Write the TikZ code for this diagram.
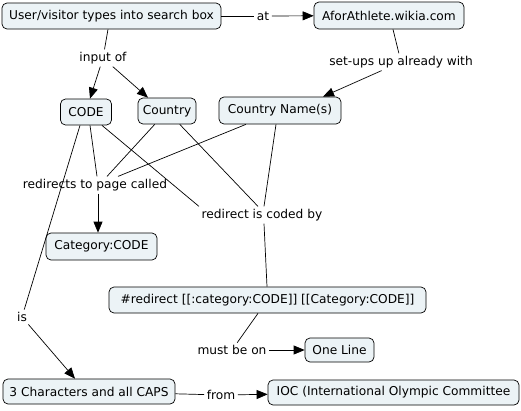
\documentclass[tikz,border=0pt]{standalone}
\usepackage{fontspec}
\setmainfont{DejaVu Sans}
\usetikzlibrary{arrows.meta}
\definecolor{boxfill}{RGB}{236,243,246}
\begin{document}
\begin{tikzpicture}[x=1pt,y=-1pt,
  concept/.style={draw=black, fill=boxfill, rounded corners=5pt, inner sep=0pt, font=\fontsize{12.2}{14}\selectfont, line width=0.7pt},
  lbl/.style={inner sep=2.5pt, font=\fontsize{12.2}{14}\selectfont},
  con/.style={draw=black, line width=0.7pt},
  arr/.style={con, -{Triangle[length=11pt,width=9pt]}}]
\useasboundingbox (0,0) rectangle (521,410);
% concepts
\node[concept, minimum width=219pt, minimum height=26pt] (user) at (111.5,16) {User/visitor types into search box};
\node[concept, minimum width=150pt, minimum height=27pt] (afor) at (389,15.5) {AforAthlete.wikia.com};
\node[concept, minimum width=51pt, minimum height=26pt] (code) at (86,112) {CODE};
\node[concept, minimum width=58pt, minimum height=26pt] (country) at (167,111) {Country};
\node[concept, minimum width=122pt, minimum height=27pt] (cname) at (280,110.5) {Country Name(s)};
\node[concept, minimum width=111pt, minimum height=27pt] (cat) at (101.5,246.5) {Category:CODE};
\node[concept, minimum width=317pt, minimum height=26pt] (redir) at (267.5,300) {\#redirect [[:category:CODE]] [[Category:CODE]]};
\node[concept, minimum width=69pt, minimum height=24pt] (oneline) at (339.5,350) {One Line};
\node[concept, minimum width=172pt, minimum height=25pt] (three) at (89,391.5) {3 Characters and all CAPS};
\node[concept, minimum width=251pt, minimum height=25pt] (ioc) at (393.5,392.5) {IOC (International Olympic Committee};
% labels
\node[lbl] (lAt) at (263,16) {at};
\node[lbl] (lInput) at (103,58) {input of};
\node[lbl] (lSetups) at (401,62) {set-ups up already with};
\node[lbl] (lRedir) at (95,185) {redirects to page called};
\node[lbl] (lCoded) at (262,215) {redirect is coded by};
\node[lbl] (lIs) at (22,317) {is};
\node[lbl] (lMust) at (232,350) {must be on};
\node[lbl] (lFrom) at (221,395) {from};
% connectors
\draw[con] (user) -- (lAt);
\draw[arr] (lAt) -- (afor);
\draw[con] (user.south -| 108,0) -- (lInput);
\draw[arr] (lInput) -- (code.north -| 90,0);
\draw[arr] (lInput) -- (country.north -| 148,0);
\draw[con] (afor.south -| 393,0) -- (lSetups);
\draw[arr] (lSetups) -- (cname.north -| 323,0);
\draw[con] (code.south -| 90,0) -- (lRedir.north -| 97,0);
\draw[con] (country) -- (lRedir.north -| 107,0);
\draw[con] (cname) -- (lRedir.north -| 118,0);
\draw[arr] (lRedir.south -| 98,0) -- (cat.north -| 98,0);
\draw[con] (code) -- (lCoded.north west);
\draw[con] (country) -- (lCoded.north -| 258,0);
\draw[con] (cname.south -| 276,0) -- (lCoded.north -| 264,0);
\draw[con] (lCoded.south -| 264,0) -- (redir.north -| 267,0);
\draw[con] (code.south -| 80,0) -- (lIs);
\draw[arr] (lIs) -- (three.north -| 75,0);
\draw[con] (redir.south -| 258,0) -- (lMust);
\draw[arr] (lMust) -- (oneline);
\draw[con] (three) -- (lFrom);
\draw[arr] (lFrom) -- (ioc);
\end{tikzpicture}
\end{document}
